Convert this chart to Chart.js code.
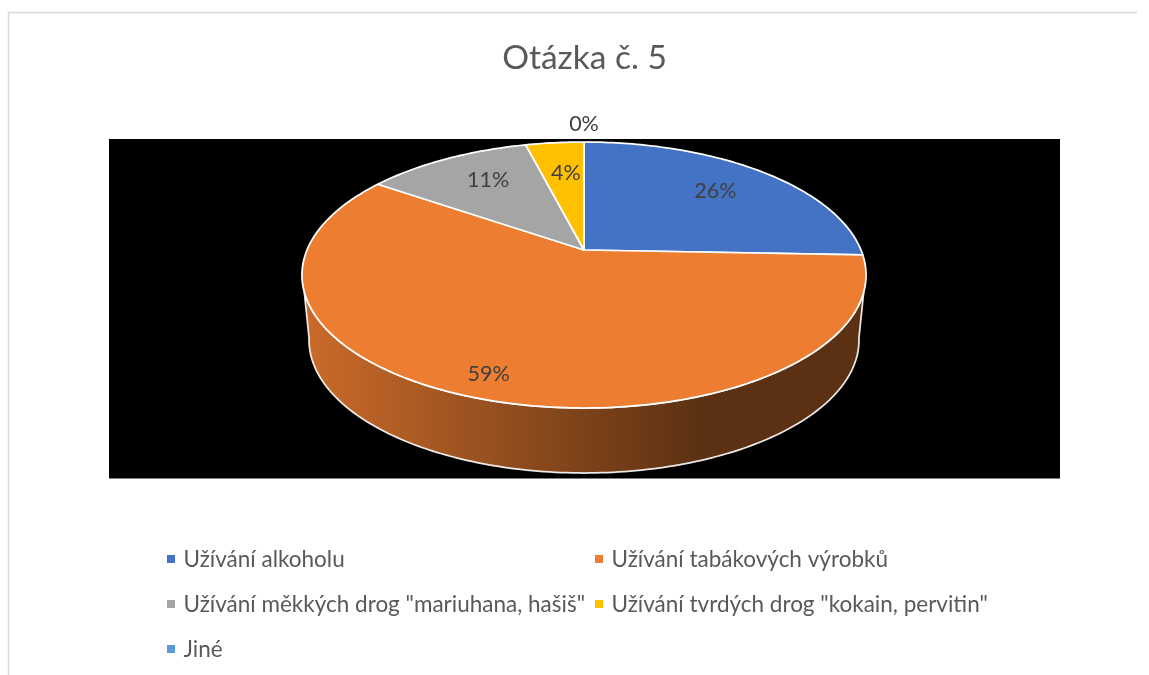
<!DOCTYPE html>
<html><head><meta charset="utf-8">
<style>html,body{margin:0;padding:0;background:#fff}canvas{display:block}</style>
<script src="https://cdn.jsdelivr.net/npm/chart.js@4"></script>
</head><body><canvas id="c" width="1149" height="675"></canvas>
<script>
const categories = ['Užívání alkoholu','Užívání tabákových výrobků','Užívání měkkých drog "mariuhana, hašiš"','Užívání tvrdých drog "kokain, pervitin"','Jiné'];
const values = [25.6,59.0,11.4,4.0,0];
const colors = ['#4472C4','#ED7D31','#A5A5A5','#FFC000','#5B9BD5'];
const labelRadius = [0.72,0.87,0.72,0.68,1.20];
const labelTurnDeg = [0,1.2,2.5,1,0];
const FONT = 'Lato, "Open Sans", sans-serif';

// Perspective view of the pie disc
const CX=584, CY=250, DEPTH=65, PERSP=-0.188, KY=128.3, MX=277, LOWER_SCALE=0.975;
const rad=d=>d*Math.PI/180;
function proj(r,a){ const x=r*Math.cos(a), y=r*Math.sin(a), w=1+PERSP*y; return [CX+MX*x/w, CY+KY*y/w]; }
function lowerProj(a){ const p=proj(1,a); return [CX+(p[0]-CX)*LOWER_SCALE, p[1]+DEPTH]; }
const STEP=rad(1);
function shade(hex,f){ const n=parseInt(hex.slice(1),16); return [n>>16,(n>>8)&255,n&255].map(v=>Math.round(v*f)); }
function rgb(a){return 'rgb('+a.join(',')+')';}

const pie3d={ id:'pie3d',
  beforeDraw(ch){ const c=ch.ctx;
    c.save(); c.fillStyle='#fff'; c.fillRect(0,0,1149,675);
    c.strokeStyle='#D9D9D9'; c.lineWidth=1.5;
    c.beginPath(); c.moveTo(8.5,675); c.lineTo(8.5,12.5); c.lineTo(1137,12.5); c.stroke();
    c.fillStyle='#000'; c.fillRect(109,139,951,339.5);
    c.restore(); },
  beforeDatasetDraw(ch,args){ const c=ch.ctx, arcs=ch.getDatasetMeta(args.index).data;
    c.save();
    const F0=rad(108-90), F1=rad(252-90), L0=rad(100-90), L1=rad(260-90);
    arcs.forEach((el,i)=>{ const {startAngle:s,endAngle:e}=el.getProps(['startAngle','endAngle'],true);
      const a0=Math.max(s,F0), a1=Math.min(e,F1); if(a1<=a0) return;
      const g=c.createLinearGradient(310,0,700,0);
      g.addColorStop(0,rgb(shade(colors[i],0.85))); g.addColorStop(1,rgb(shade(colors[i],0.39)));
      c.beginPath();
      for(let a=a0;a<a1;a+=STEP){const p=proj(1,a);c.lineTo(p[0],p[1]);}
      let p=proj(1,a1);c.lineTo(p[0],p[1]);
      for(let a=Math.min(a1===F1?L1:a1,L1);a>Math.max(a0===F0?L0:a0,L0);a-=STEP){const q=lowerProj(a);c.lineTo(q[0],q[1]);}
      p=lowerProj(Math.max(a0===F0?L0:a0,L0));c.lineTo(p[0],p[1]);
      c.closePath(); c.fillStyle=g; c.fill();
      c.strokeStyle='rgba(255,255,255,0.9)'; c.lineWidth=1.75; c.stroke();
    });
    arcs.forEach((el,i)=>{ const {startAngle:s,endAngle:e}=el.getProps(['startAngle','endAngle'],true);
      if(e-s<=0) return;
      c.beginPath(); c.moveTo(CX,CY);
      for(let a=s;a<e;a+=STEP){const p=proj(1,a);c.lineTo(p[0],p[1]);}
      const p=proj(1,e);c.lineTo(p[0],p[1]); c.closePath();
      c.fillStyle=colors[i]; c.fill();
      c.strokeStyle='#fff'; c.lineWidth=1.75; c.lineJoin='round'; c.stroke();
    });
    c.restore();
    return false; },
  afterDatasetsDraw(ch){ const c=ch.ctx, arcs=ch.getDatasetMeta(0).data;
    c.save(); c.font='21.5px '+FONT; c.fillStyle='#404040'; c.textAlign='center'; c.textBaseline='middle';
    arcs.forEach((el,i)=>{ const {startAngle:s,endAngle:e}=el.getProps(['startAngle','endAngle'],true);
      const p=proj(labelRadius[i],(s+e)/2+rad(labelTurnDeg[i])); c.fillText(Math.round(values[i])+'%',p[0],p[1]); });
    c.restore();
    c.save(); c.font='22.5px '+FONT; c.textAlign='left'; c.textBaseline='middle';
    categories.forEach((t,i)=>{ const col=i%2, row=Math.floor(i/2), x=col?595:167, y=560+row*45;
      c.fillStyle=colors[i]; c.fillRect(x,y-5,8,8);
      c.fillStyle='#595959'; c.fillText(t,x+16.5,y); });
    c.restore(); }
};

new Chart(document.getElementById('c'),{ type:'pie',
  data:{labels:categories,datasets:[{data:values,backgroundColor:colors,borderColor:'#fff'}]},
  options:{ responsive:false, animation:false, rotation:0,
    layout:{padding:{left:20}},
    plugins:{ legend:{display:false}, tooltip:{enabled:false},
      title:{display:true,fullSize:false,text:'Otázka č. 5',color:'#595959',font:{family:FONT,size:33.5,weight:'normal'},padding:{top:38,bottom:0}} } },
  plugins:[pie3d] });
</script></body></html>
